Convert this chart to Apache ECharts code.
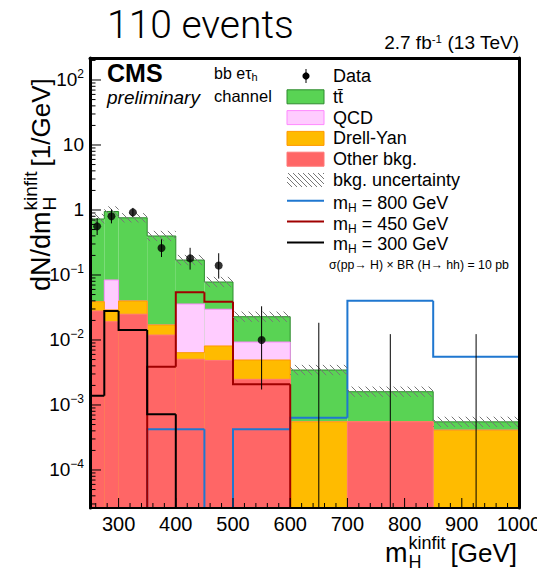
<!DOCTYPE html>
<html>
<head>
<meta charset="utf-8">
<title>m_H kinfit distribution</title>
<script src="https://cdn.jsdelivr.net/npm/echarts@6/dist/echarts.min.js"></script>
<style>
html,body{margin:0;padding:0;background:#ffffff;}
#chart{width:537px;height:571px;}
</style>
</head>
<body>
<div id="chart"></div>
<script>
// ---------------- data ----------------
const binEdges   = [250, 275, 300, 350, 400, 450, 500, 600, 700, 850, 1000];
const otherBkg   = [0.0279, 0.0191, 0.0249, 0.0119, 0.00505, 0.00484, 0.00248, 0, 0.00055, 0];
const drellYan   = [0.0109, 0.0099, 0.0149, 0.0051, 0.00133, 0.00325, 0.00244, 0.00055, 0, 0.00041];
const qcd        = [0, 0.0548, 0, 0, 0.0294, 0.0216, 0.00438, 0, 0, 0];
const ttbar      = [0.688, 0.864, 0.719, 0.381, 0.134, 0.0483, 0.0135, 0.0029, 0.00105, 0.00014];
const bkgRelUnc  = [0.2, 0.2, 0.18, 0.2, 0.2, 0.2, 0.2, 0.2, 0.2, 0.2];
const dataValue  = [0.56, 0.80, 0.92, 0.26, 0.18, 0.14, 0.010, 0, 0, 0];
const dataLow    = [0.412, 0.622, 0.785, 0.189, 0.121, 0.088, 0.00173, 0, 0, 0];
const dataHigh   = [0.754, 1.022, 1.077, 0.354, 0.262, 0.216, 0.033, 0.0184, 0.0123, 0.0123];
const sigM800    = [0, 0, 0, 0.000423, 0.000423, 0, 0.000423, 0.000638, 0.0403, 0.00554];
const sigM450    = [0, 0, 0, 0.00389, 0.0542, 0.0388, 0.00208, 0, 0, 0];
const sigM300    = [0.00139, 0.0279, 0.01426, 0.00072, 0, 0, 0, 0, 0, 0];
const xTickValues = [300, 400, 500, 600, 700, 800, 900, 1000];
const yTickValues = [1e-4, 1e-3, 1e-2, 1e-1, 1, 10, 100];

// ---------------- layout / style ----------------
const XMIN = 250, XMAX = 1000, YMIN = 2.6e-5, YMAX = 218;
const FONT = '"Liberation Sans", Arial, Helvetica, sans-serif';
const C = {
  tt:   {fill: '#59d354', stroke: '#2e8b2e'},
  qcd:  {fill: '#ffccff', stroke: '#ff88ff'},
  dy:   {fill: '#ffbb00', stroke: '#ff9900'},
  oth:  {fill: '#ff6666', stroke: '#ff7777'},
  s800: '#1f77d0', s450: '#a00000', s300: '#000000', hatch: '#777777'
};

const cum = (...arrs) => arrs[0].map((_, i) => arrs.reduce((s, a) => s + a[i], 0));
const cumOther = cum(otherBkg);
const cumDY = cum(otherBkg, drellYan);
const cumQCD = cum(otherBkg, drellYan, qcd);
const cumTT = cum(otherBkg, drellYan, qcd, ttbar);
const cy = v => (v > YMIN ? v : YMIN);
const centers = binEdges.slice(0, -1).map((e, i) => (e + binEdges[i + 1]) / 2);

function stepSeries(name, values, opts) {
  return {
    type: 'custom', name, coordinateSystem: 'cartesian2d', clip: true, z: opts.z, silent: true,
    encode: {x: [0, 1], y: 2},
    data: values.map((v, i) => [binEdges[i], binEdges[i + 1], v]),
    renderItem(params, api) {
      const i = params.dataIndex;
      const x0 = api.value(0), x1 = api.value(1), v = api.value(2);
      const prev = i > 0 ? values[i - 1] : 0;
      const children = [];
      if (opts.fill && v > 0) {
        const a = api.coord([x0, cy(v)]), b = api.coord([x1, YMIN]);
        children.push({type: 'rect', shape: {x: a[0], y: a[1], width: b[0] - a[0], height: b[1] - a[1]}, style: {fill: opts.fill}});
      }
      const pts = [api.coord([x0, cy(prev)]), api.coord([x0, cy(v)]), api.coord([x1, cy(v)])];
      if (i === values.length - 1) pts.push(api.coord([x1, YMIN]));
      children.push({type: 'polyline', shape: {points: pts}, style: {stroke: opts.stroke, lineWidth: opts.lineWidth, fill: null}});
      return {type: 'group', children};
    }
  };
}

function hatch(x, y, w, h, s, color) {
  const out = [];
  let c = Math.ceil((x - (y + h)) / s) * s;
  for (; c <= x + w - y; c += s) {
    let X0 = c + y, Y0 = y;
    if (X0 < x) { X0 = x; Y0 = x - c; }
    let X1 = c + y + h, Y1 = y + h;
    if (X1 > x + w) { X1 = x + w; Y1 = x + w - c; }
    if (Y1 - Y0 < 0.5) continue;
    out.push({type: 'line', shape: {x1: X0, y1: Y0, x2: X1, y2: Y1}, style: {stroke: color, lineWidth: 1}});
  }
  return out;
}

const series = [
  stepSeries('tt', cumTT, {fill: C.tt.fill, stroke: C.tt.stroke, lineWidth: 1, z: 2}),
  stepSeries('QCD', cumQCD, {fill: C.qcd.fill, stroke: C.qcd.stroke, lineWidth: 1, z: 2}),
  stepSeries('Drell-Yan', cumDY, {fill: C.dy.fill, stroke: C.dy.stroke, lineWidth: 1, z: 2}),
  stepSeries('Other bkg.', cumOther, {fill: C.oth.fill, stroke: C.oth.stroke, lineWidth: 1, z: 2}),
  stepSeries('mH800', sigM800, {stroke: C.s800, lineWidth: 2, z: 3}),
  stepSeries('mH450', sigM450, {stroke: C.s450, lineWidth: 2, z: 3}),
  stepSeries('mH300', sigM300, {stroke: C.s300, lineWidth: 2, z: 3}),
  {
    type: 'custom', name: 'bkg. uncertainty', coordinateSystem: 'cartesian2d', clip: true, z: 4, silent: true,
    encode: {x: [0, 1], y: [2, 3]},
    data: cumTT.map((v, i) => [binEdges[i], binEdges[i + 1], v * (1 + bkgRelUnc[i]), v / (1 + bkgRelUnc[i])]),
    renderItem(params, api) {
      const a = api.coord([api.value(0), api.value(2)]), b = api.coord([api.value(1), api.value(3)]);
      return {type: 'group', children: hatch(a[0], a[1], b[0] - a[0], b[1] - a[1], 7, C.hatch)};
    }
  },
  {
    type: 'custom', name: 'Data errors', coordinateSystem: 'cartesian2d', clip: true, z: 5, silent: true,
    encode: {x: 0, y: [1, 2]},
    data: centers.map((x, i) => [x, dataLow[i], dataHigh[i]]),
    renderItem(params, api) {
      const a = api.coord([api.value(0), cy(api.value(1))]), b = api.coord([api.value(0), api.value(2)]);
      return {type: 'line', shape: {x1: a[0], y1: a[1], x2: b[0], y2: b[1]}, style: {stroke: '#000', lineWidth: 1}};
    }
  },
  {
    type: 'scatter', name: 'Data', z: 6, silent: true, symbol: 'circle', symbolSize: 8,
    itemStyle: {color: '#000'},
    data: centers.map((x, i) => [x, dataValue[i]]).filter(p => p[1] > 0)
  },
  {
    type: 'custom', name: 'ticks', coordinateSystem: 'cartesian2d', clip: false, z: 20, silent: true,
    data: [[XMIN, 1]],
    renderItem(params, api) {
      const ch = [];
      const ln = (x1, y1, x2, y2) => ch.push({type: 'line', shape: {x1, y1, x2, y2}, style: {stroke: '#000', lineWidth: 1}});
      const yb = api.coord([XMIN, YMIN])[1];
      xTickValues.forEach(v => { const p = api.coord([v, YMIN]); ln(p[0], yb, p[0], yb - 10); });
      for (let v = XMIN + 10; v < XMAX; v += 20) {
        if (xTickValues.includes(v)) continue;
        const p = api.coord([v, YMIN]); ln(p[0], yb, p[0], yb - 5);
      }
      const xl = api.coord([XMIN, 1])[0];
      yTickValues.forEach(v => { const p = api.coord([XMIN, v]); ln(xl, p[1], xl + 11, p[1]); });
      for (let e = -5; e <= 2; e++) {
        for (let k = 2; k <= 9; k++) {
          const v = k * Math.pow(10, e);
          if (v <= YMIN || v >= YMAX) continue;
          const p = api.coord([XMIN, v]); ln(xl, p[1], xl + 5.5, p[1]);
        }
      }
      return {type: 'group', children: ch};
    }
  }
];

// ---------------- text helpers ----------------
const mctx = document.createElement('canvas').getContext('2d');
function tw(text, font) { mctx.font = font; return mctx.measureText(text).width; }
function T(x, y, text, font, extra) {
  return {type: 'text', x, y, silent: true, z: 100,
    style: Object.assign({text, font, fill: '#000', align: 'left', verticalAlign: 'middle'}, extra || {})};
}
const f = (size, pre) => (pre ? pre + ' ' : '') + size + 'px ' + FONT;

// axis titles built from pieces (stacked sub/superscript)
function massTitle(prefix, suffix, size, ssize, scr, gap, raise, lower) {
  const w1 = tw(prefix, f(size));
  const wk = tw('kinfit', f(scr));
  return [
    T(0, -0.33 * size, prefix, f(size)),
    T(w1 + 1, -0.33 * scr - raise, 'kinfit', f(scr)),
    T(w1 + 1, -0.33 * scr + lower, 'H', f(scr)),
    T(w1 + 1 + wk + gap, -0.33 * ssize, suffix, f(ssize))
  ];
}

const rows = [76, 96.8, 117.6, 138.4, 159.2, 180, 200.8, 221.6, 242.4];
const LX0 = 287, LX1 = 324, LTX = 333, LFONT = f(18);
const box = (row, c) => ({type: 'rect', z: 100, silent: true,
  shape: {x: LX0, y: row - 7, width: LX1 - LX0, height: 14}, style: {fill: c.fill, stroke: c.stroke, lineWidth: 1}});
const hline = (row, color) => ({type: 'line', z: 100, silent: true,
  shape: {x1: LX0, y1: row, x2: LX1, y2: row}, style: {stroke: color, lineWidth: 2}});
const subRich = {m: {font: LFONT, lineHeight: 22, verticalAlign: 'middle'},
                 s: {font: f(12), fontSize: 12, lineHeight: 12, verticalAlign: 'bottom'}};

const graphic = [
  T(107, 25, '110 events', '300 39px Roboto, ' + FONT),
  T(519, 42, '2.7 fb{sup|-1} (13 TeV)', f(19), {align: 'right',
    rich: {sup: {font: f(11.5), fontSize: 11.5, lineHeight: 11.5, verticalAlign: 'top'}}}),
  T(107, 73, 'CMS', f(25, 'bold')),
  T(107, 97, 'preliminary', f(19, 'italic')),
  T(214, 73, '{m|bb eτ}{s|h}', f(16), {rich: {m: {font: f(16), lineHeight: 18, verticalAlign: 'middle'},
    s: {font: f(11), fontSize: 11, lineHeight: 11, verticalAlign: 'bottom'}}}),
  T(214, 96, 'channel', f(16.5)),
  // legend
  {type: 'line', z: 100, silent: true, shape: {x1: 306, y1: rows[0] - 7, x2: 306, y2: rows[0] + 7}, style: {stroke: '#000', lineWidth: 1}},
  {type: 'circle', z: 100, silent: true, shape: {cx: 306, cy: rows[0], r: 3.6}, style: {fill: '#000'}},
  T(LTX, rows[0], 'Data', LFONT),
  box(rows[1], C.tt), T(LTX, rows[1], 'tt\u0304', LFONT),
  box(rows[2], C.qcd), T(LTX, rows[2], 'QCD', LFONT),
  box(rows[3], C.dy), T(LTX, rows[3], 'Drell-Yan', LFONT),
  box(rows[4], C.oth), T(LTX, rows[4], 'Other bkg.', LFONT),
  {type: 'group', z: 100, silent: true, children: hatch(LX0, rows[5] - 7, LX1 - LX0, 14, 5, C.hatch)},
  T(LTX, rows[5], 'bkg. uncertainty', LFONT),
  hline(rows[6], C.s800), T(LTX, rows[6] + 2, '{m|m}{s|H}{m| = 800 GeV}', LFONT, {rich: subRich}),
  hline(rows[7], C.s450), T(LTX, rows[7] + 2, '{m|m}{s|H}{m| = 450 GeV}', LFONT, {rich: subRich}),
  hline(rows[8], C.s300), T(LTX, rows[8] + 2, '{m|m}{s|H}{m| = 300 GeV}', LFONT, {rich: subRich}),
  T(329, 265, 'σ(pp→ H) × BR (H→ hh) = 10 pb', f(12.3)),
  // axis titles
  {type: 'group', x: 385, y: 561.5, z: 100, silent: true, children: massTitle('m', '[GeV]', 27, 26, 18, 5, 12.5, 6)},
  {type: 'group', x: 50, y: 291, rotation: Math.PI / 2, z: 100, silent: true,
    children: massTitle('dN/dm', '[1/GeV]', 27, 26, 19, 5, 13, 6)}
];

const yLabel = v => {
  const e = Math.round(Math.log10(v));
  if (!yTickValues.some(t => Math.abs(t / v - 1) < 1e-6)) return '';
  if (e === 0) return '1';
  if (e === 1) return '10';
  return '10{sup|' + (e < 0 ? '\u2212' : '') + Math.abs(e) + '}';
};

const chart = echarts.init(document.getElementById('chart'), null, {renderer: 'svg'});
chart.setOption({
  animation: false,
  backgroundColor: '#ffffff',
  grid: {left: 90, right: 18, top: 58, bottom: 63, containLabel: false, outerBoundsMode: 'none'},
  xAxis: [
    {type: 'value', min: XMIN, max: XMAX, interval: 50, position: 'bottom', z: 10,
      axisLine: {show: true, onZero: false, lineStyle: {color: '#000', width: 2}},
      axisTick: {show: false}, splitLine: {show: false},
      axisLabel: {formatter: v => (xTickValues.includes(v) ? String(v) : ''), color: '#000', fontSize: 20, fontFamily: FONT, margin: 6}},
    {type: 'value', min: XMIN, max: XMAX, position: 'top', z: 10,
      axisLine: {show: true, onZero: false, lineStyle: {color: '#000', width: 3}},
      axisTick: {show: false}, axisLabel: {show: false}, splitLine: {show: false}}
  ],
  yAxis: [
    {type: 'log', logBase: 10, min: YMIN, max: YMAX, z: 10,
      axisLine: {show: true, onZero: false, lineStyle: {color: '#000', width: 3}},
      axisTick: {show: false}, splitLine: {show: false}, minorSplitLine: {show: false},
      axisLabel: {formatter: yLabel, showMinLabel: false, showMaxLabel: false, color: '#000', fontSize: 19,
        fontFamily: FONT, lineHeight: 24, margin: 6,
        rich: {sup: {fontSize: 12, fontFamily: FONT, color: '#000', lineHeight: 12, verticalAlign: 'top'}}}},
    {type: 'log', logBase: 10, min: YMIN, max: YMAX, position: 'right', z: 10,
      axisLine: {show: true, onZero: false, lineStyle: {color: '#000', width: 3}},
      axisTick: {show: false}, axisLabel: {show: false}, splitLine: {show: false}}
  ],
  series,
  graphic
});
</script>
</body>
</html>
